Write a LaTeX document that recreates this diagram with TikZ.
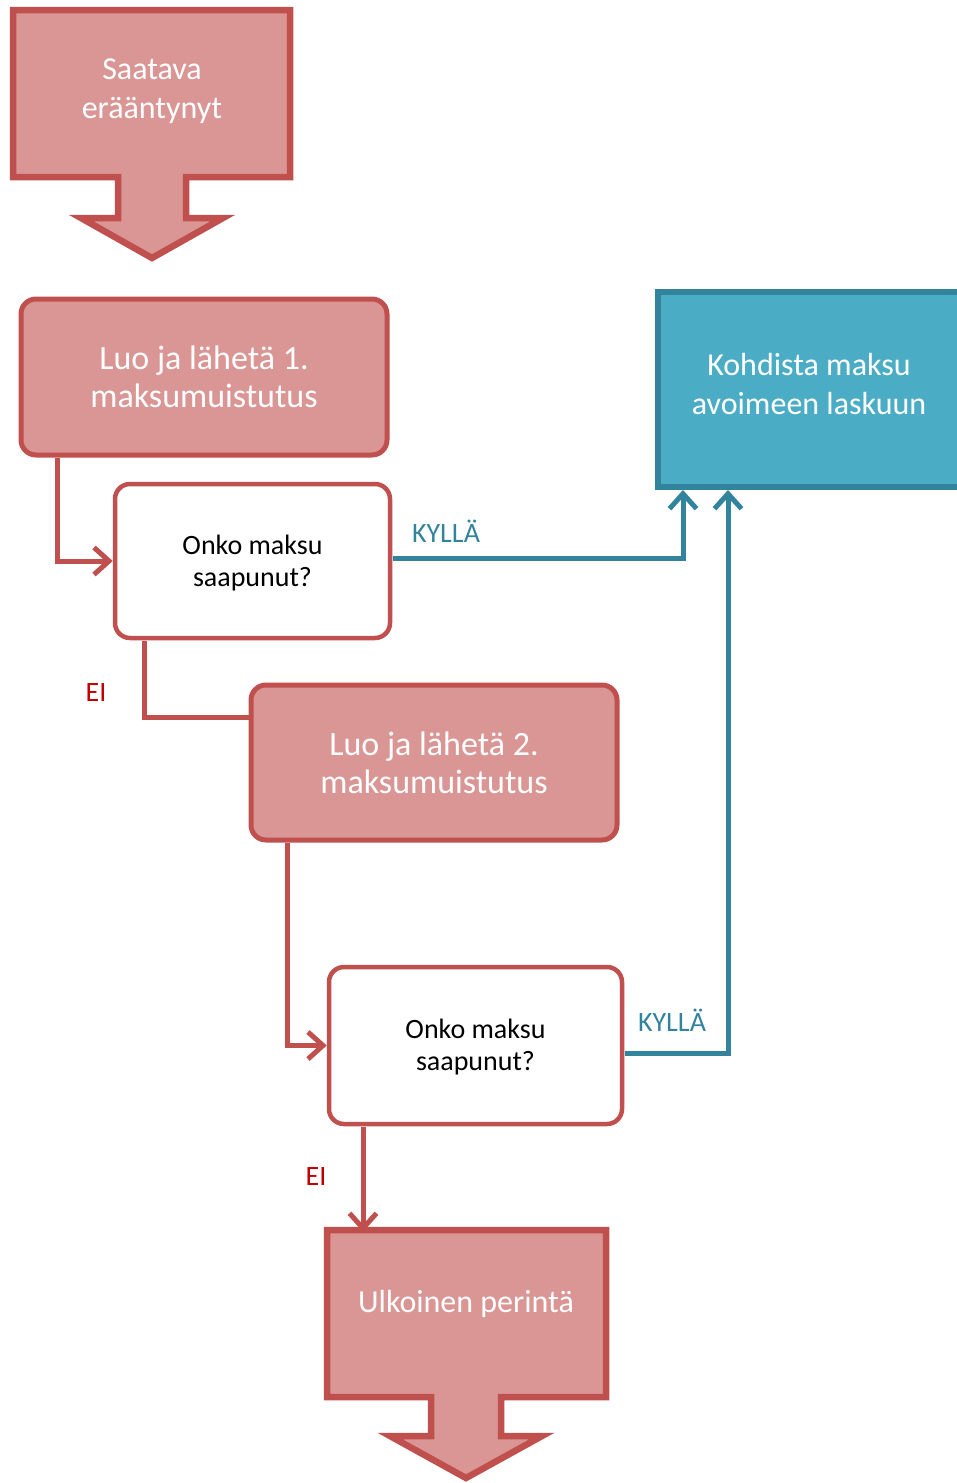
\documentclass[tikz,border=0pt]{standalone}
\usepackage{fontspec}
\setmainfont{Carlito}
\usetikzlibrary{arrows.meta}
\definecolor{pinkfill}{HTML}{D99694}
\definecolor{redline}{HTML}{C0504D}
\definecolor{tealfill}{HTML}{4BACC6}
\definecolor{tealline}{HTML}{31849B}
\definecolor{nored}{HTML}{C00000}
\tikzset{
  bigarrow/.style={draw=redline, fill=pinkfill, line width=6.5pt, line join=miter},
  bigtext/.style={text=white, align=center, font=\fontsize{32}{39}\selectfont},
  process/.style={draw=redline, fill=pinkfill, line width=5pt, rounded corners=15pt,
    text=white, align=center, font=\fontsize{34}{38}\selectfont, inner sep=0pt,
    minimum width=366pt, minimum height=156pt},
  decision/.style={draw=redline, fill=white, line width=4.5pt, rounded corners=15pt,
    inner sep=0pt},
  decisiontext/.style={text=black, align=center, font=\fontsize{28}{32}\selectfont},
  result/.style={draw=tealline, fill=tealfill, line width=6pt, inner sep=0pt},
  resulttext/.style={text=white, align=center, font=\fontsize{32}{39}\selectfont},
  redflow/.style={draw=redline, line width=5pt},
  tealflow/.style={draw=tealline, line width=5pt},
  barb/.style={-{Straight Barb[length=15pt,width=27pt]}},
  nolabel/.style={text=nored, font=\fontsize{28}{32}\selectfont},
  yeslabel/.style={text=tealline, font=\fontsize{28}{32}\selectfont},
}
\begin{document}
\begin{tikzpicture}[x=1pt,y=-1pt]
\useasboundingbox (0,0) rectangle (957,1483);

% start: block arrow pointing down
\draw[bigarrow] (13,10) -- (290,10) -- (290,177) -- (186,177) -- (186,218)
  -- (223,218) -- (152,258) -- (81,218) -- (118,218) -- (118,177) -- (13,177) -- cycle;
\node[bigtext] (start) at (152,91) {Saatava\\erääntynyt};

% first reminder and check
\node[process] (b1) at (204,377) {Luo ja lähetä 1.\\maksumuistutus};
\node[decision, minimum width=275pt, minimum height=154pt] (d1) at (252.5,561) {};
\node[decisiontext] (d1t) at (252.5,563) {Onko maksu\\saapunut?};

% payment allocation
\node[result, minimum width=302pt, minimum height=195pt] (pay) at (809,389.5) {};
\node[resulttext] (payt) at (809,384) {Kohdista maksu\\avoimeen laskuun};

% second reminder and check
\node[process, minimum height=155pt] (b2) at (434,762.5) {Luo ja lähetä 2.\\maksumuistutus};
\node[decision, minimum width=293pt, minimum height=157pt] (d2) at (475.5,1045.5) {};
\node[decisiontext] (d2t) at (475.5,1047.5) {Onko maksu\\saapunut?};

% end: block arrow pointing down
\draw[bigarrow] (327,1230) -- (606,1230) -- (606,1397) -- (501,1397) -- (501,1436)
  -- (542,1436) -- (466,1478) -- (390,1436) -- (431,1436) -- (431,1397) -- (327,1397) -- cycle;
\node[bigtext] (ext) at (466,1304) {Ulkoinen perintä};
\coordinate (exttop) at (363,1232);

% connectors
\coordinate (b1out) at (57,458);
\coordinate (d1yes) at (393,558);
\coordinate (pay1) at (683,490);
\coordinate (d1no) at (144,641);
\coordinate (b2in) at (250,717);
\coordinate (b2out) at (287,843);
\coordinate (d2yes) at (625,1053);
\coordinate (pay2) at (728,490);
\coordinate (d2no) at (363,1127);
\draw[redflow, barb] (b1out) |- (d1.west);
\draw[tealflow, barb] (d1yes) -| (pay1);
\draw[redflow] (d1no) |- (b2in);
\draw[redflow, barb] (b2out) |- (d2.west);
\draw[tealflow, barb] (d2yes) -| (pay2);
\draw[redflow, barb] (d2no) -- (exttop);

% branch labels
\node[yeslabel] (y1) at (446,531) {KYLLÄ};
\node[nolabel] (n1) at (96,693) {EI};
\node[yeslabel] (y2) at (672,1020) {KYLLÄ};
\node[nolabel] (n2) at (316,1177) {EI};
\end{tikzpicture}
\end{document}
